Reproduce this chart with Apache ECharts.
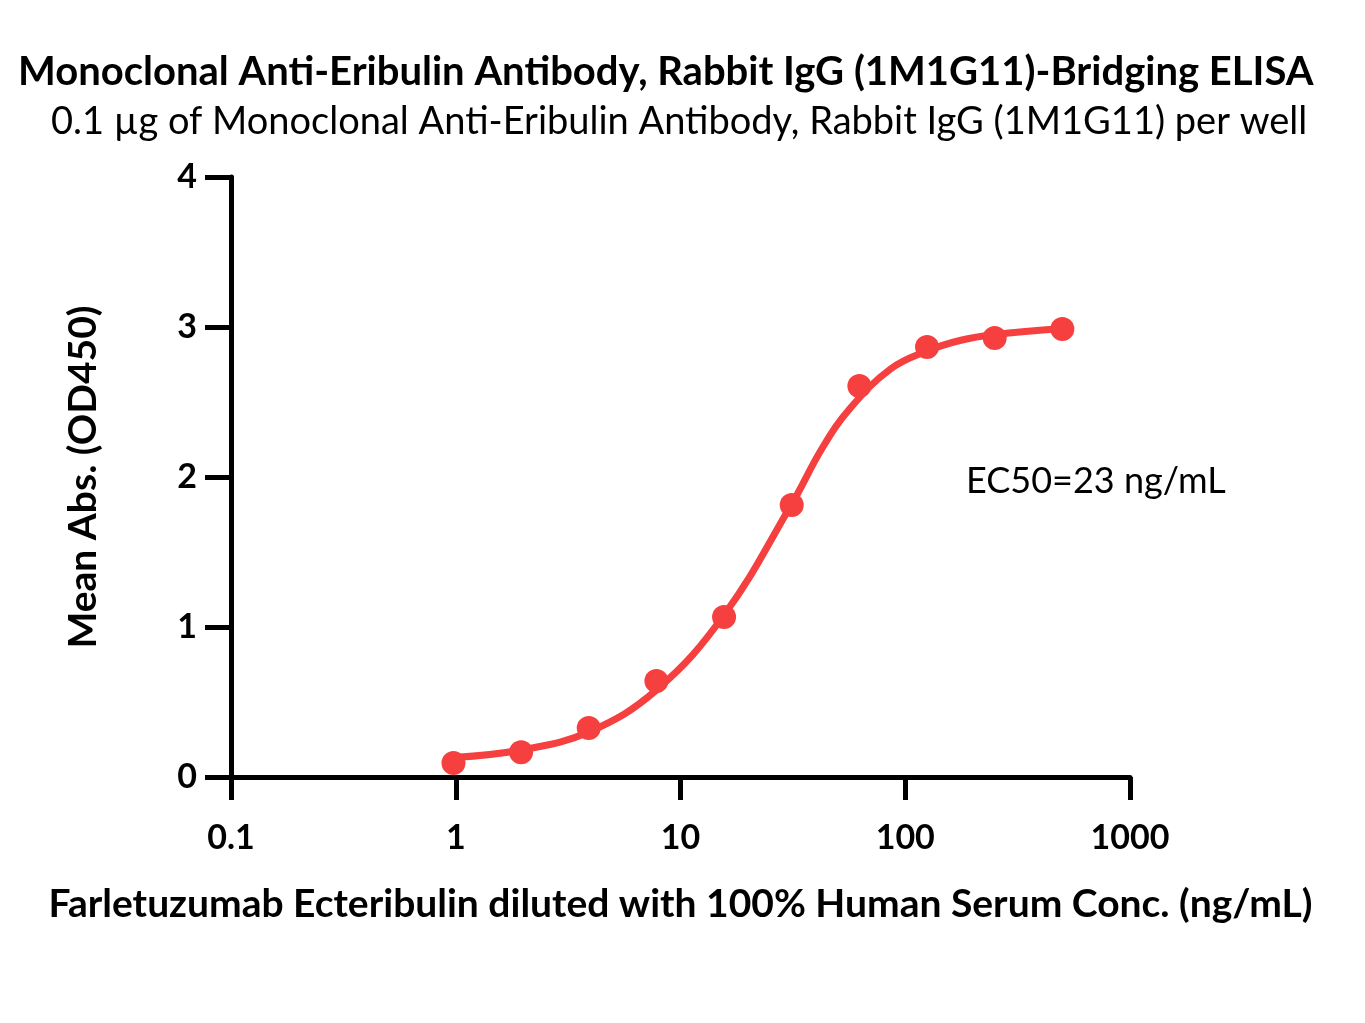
<!DOCTYPE html>
<html>
<head>
<meta charset="utf-8">
<title>Bridging ELISA</title>
<script src="https://cdn.jsdelivr.net/npm/echarts@6/dist/echarts.min.js"></script>
<style>
  html, body { margin: 0; padding: 0; background: #fff; }
  #main { width: 1365px; height: 1023px; }
</style>
</head>
<body>
<div id="main"></div>
<script>
// measured points (conc ng/mL, OD450)
const conc = [0.977, 1.953, 3.906, 7.8125, 15.625, 31.25, 62.5, 125, 250, 500];
const od = [0.093, 0.165, 0.327, 0.64, 1.067, 1.813, 2.607, 2.867, 2.927, 2.987];

// fitted curve
const fitConc = [0.977, 1.953, 3.906, 7.8125, 15.625, 31.25, 43, 57, 86, 125, 175, 250, 500];
const fitOd = [0.13, 0.18, 0.30, 0.58, 1.08, 1.82, 2.2, 2.46, 2.72, 2.84, 2.91, 2.95, 2.99];

const xTicks = ['0.1', '1', '10', '100', '1000'];

const red = '#f5403f';
const font = 'Lato, "Noto Sans", sans-serif';

const chart = echarts.init(document.getElementById('main'));

const option = {
  backgroundColor: '#fff',
  animation: false,
  title: [
    {
      text: 'Monoclonal Anti-Eribulin Antibody, Rabbit IgG (1M1G11)-Bridging ELISA',
      left: 13,
      top: 47,
      textStyle: { fontFamily: font, fontSize: 40, fontWeight: 'bold', color: '#000' }
    },
    {
      text: '0.1 µg of Monoclonal Anti-Eribulin Antibody, Rabbit IgG (1M1G11) per well',
      left: 46,
      top: 98,
      textStyle: { fontFamily: font, fontSize: 38, fontWeight: 'normal', color: '#000' }
    }
  ],
  grid: { left: 231, right: 235, top: 177, bottom: 246, containLabel: false },
  xAxis: {
    type: 'log',
    logBase: 10,
    min: 0.1,
    max: 1000,
    name: 'Farletuzumab Ecteribulin diluted with 100% Human Serum Conc. (ng/mL)',
    nameLocation: 'middle',
    nameGap: 108,
    nameTextStyle: { fontFamily: font, fontSize: 39, fontWeight: 'bold', color: '#000' },
    axisLine: { lineStyle: { color: '#000', width: 5 } },
    axisTick: { length: 23, lineStyle: { color: '#000', width: 5 } },
    minorTick: { show: false },
    splitLine: { show: false },
    axisLabel: {
      margin: 44,
      fontFamily: font,
      fontSize: 34,
      fontWeight: 'bold',
      color: '#000',
      formatter: function (v) {
        const i = Math.round(Math.log10(v)) + 1;
        return xTicks[i] !== undefined ? xTicks[i] : '';
      }
    }
  },
  yAxis: {
    type: 'value',
    min: 0,
    max: 4,
    interval: 1,
    name: 'Mean Abs. (OD450)',
    nameLocation: 'middle',
    nameGap: 128,
    nameTextStyle: { fontFamily: font, fontSize: 39, fontWeight: 'bold', color: '#000' },
    axisLine: { show: true, lineStyle: { color: '#000', width: 5 } },
    axisTick: { show: true, length: 26, lineStyle: { color: '#000', width: 5 } },
    splitLine: { show: false },
    axisLabel: {
      margin: 34,
      fontFamily: font,
      fontSize: 34,
      fontWeight: 'bold',
      color: '#000'
    }
  },
  graphic: [
    {
      type: 'text',
      left: 966,
      top: 463,
      style: { text: 'EC50=23 ng/mL', fontFamily: font, fontSize: 36, fill: '#000' }
    }
  ],
  series: [
    {
      type: 'line',
      data: fitConc.map((c, i) => [c, fitOd[i]]),
      smooth: 0.4,
      showSymbol: false,
      lineStyle: { color: red, width: 7 },
      z: 2
    },
    {
      type: 'scatter',
      data: conc.map((c, i) => [c, od[i]]),
      symbol: 'circle',
      symbolSize: 24,
      itemStyle: { color: red, opacity: 1 },
      z: 3
    }
  ]
};

chart.setOption(option);
</script>
</body>
</html>
